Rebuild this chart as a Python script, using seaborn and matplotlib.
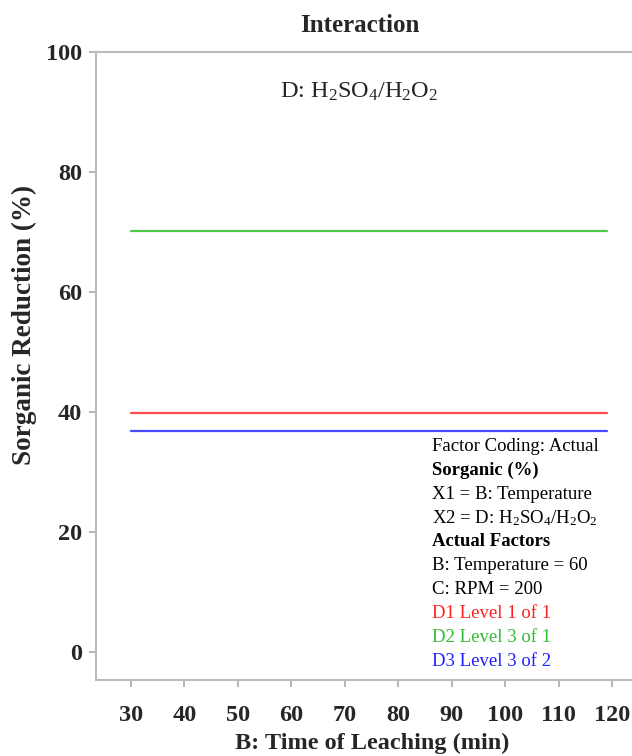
import pandas as pd
import matplotlib
matplotlib.use("Agg")
import matplotlib.pyplot as plt
import seaborn as sns

# 數據
time_points = [30, 119]
d1_values = [39.8, 39.8]
d2_values = [70.2, 70.2]
d3_values = [36.9, 36.9]
series_names = ["D1", "D2", "D3"]
series_colors = ["#ff4a4a", "#4cc94c", "#4a4aff"]
x_ticks = [30, 40, 50, 60, 70, 80, 90, 100, 110, 120]
y_ticks = [0, 20, 40, 60, 80, 100]

df = pd.DataFrame({
    "Time": time_points * 3,
    "Sorganic": d1_values + d2_values + d3_values,
    "Series": ["D1"] * 2 + ["D2"] * 2 + ["D3"] * 2,
})

sns.set_style("white")
plt.rcParams["font.family"] = ["Liberation Serif", "DejaVu Serif"]
plt.rcParams["mathtext.fontset"] = "custom"
plt.rcParams["mathtext.rm"] = "Liberation Serif"

fig = plt.figure(figsize=(6.32, 7.56), dpi=100)
ax = fig.add_axes([0.152, 0.1005, 0.848, 0.8305])

sns.lineplot(data=df, x="Time", y="Sorganic", hue="Series",
             palette=dict(zip(series_names, series_colors)),
             linewidth=1.6, legend=False, ax=ax)

ax.set_xlim(23.5, 123.7)
ax.set_ylim(-4.67, 100)
ax.set_xticks(x_ticks)
ax.set_yticks(y_ticks)
ax.set_xticklabels([str(v) for v in x_ticks], fontsize=17.5, fontweight="bold")
ax.set_yticklabels([str(v) for v in y_ticks], fontsize=17.5, fontweight="bold")
ax.tick_params(axis="x", bottom=True, direction="out", length=5, width=1.2, color="#aaaaaa", pad=13)
ax.tick_params(axis="y", left=True, direction="out", length=5, width=1.2, color="#aaaaaa", pad=5)

for side in ["left", "bottom", "top"]:
    ax.spines[side].set_color("#bbbbbb")
    ax.spines[side].set_linewidth(1.5)
ax.spines["right"].set_visible(False)

ax.set_xlabel("B: Time of Leaching (min)", fontsize=17.5, fontweight="bold")
ax.set_ylabel("Sorganic Reduction (%)", fontsize=19.5, fontweight="bold")
ax.xaxis.set_label_coords(0.516, -0.084)
ax.yaxis.set_label_coords(-0.111, 0.565)
fig.text(0.57, 0.966, "Interaction", ha="center", va="center", fontsize=18, fontweight="bold")

ax.text(0.49, 0.937, r"D: $\mathregular{H_2SO_4/H_2O_2}$", transform=ax.transAxes,
        ha="center", va="center", fontsize=17.5)

# 右下角說明文字
info_lines = [
    ("Factor Coding: Actual", "black", "normal"),
    ("Sorganic (%)", "black", "bold"),
    ("X1 = B: Temperature", "black", "normal"),
    (r"X2 = D: $\mathregular{H_2SO_4/H_2O_2}$", "black", "normal"),
    ("Actual Factors", "black", "bold"),
    ("B: Temperature = 60", "black", "normal"),
    ("C: RPM = 200", "black", "normal"),
    ("D1 Level 1 of 1", "#ff2020", "normal"),
    ("D2 Level 3 of 1", "#33bb33", "normal"),
    ("D3 Level 3 of 2", "#2020ff", "normal"),
]
for i, (txt, col, wt) in enumerate(info_lines):
    fig.text(432 / 632, 1 - (446 + 24 * i) / 756, txt, color=col, fontweight=wt,
             fontsize=13.5, ha="left", va="center")

plt.savefig("out.png", dpi=100)
